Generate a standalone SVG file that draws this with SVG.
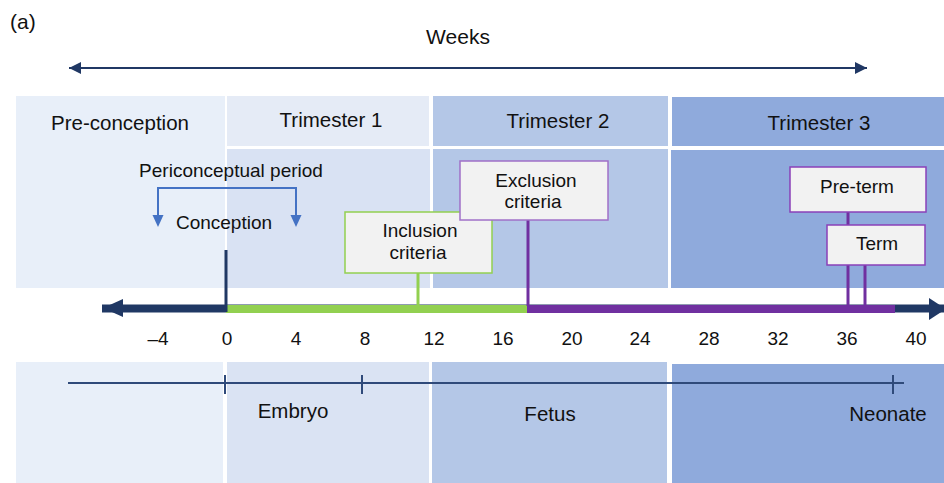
<svg xmlns="http://www.w3.org/2000/svg" width="944" height="483" viewBox="0 0 944 483">
<style>
text{font-family:"Liberation Sans",Arial,sans-serif;fill:#111;}
.h{font-size:20.5px;text-anchor:middle;}
.t{font-size:19px;text-anchor:middle;}
.n{font-size:19px;text-anchor:middle;}
.box{fill:#f2f2f2;stroke-width:1.5;}
.bl{fill:#4472c4;}
</style>
<defs>
<marker id="ah" viewBox="0 0 10 10" refX="10" refY="5" markerWidth="13" markerHeight="12" markerUnits="userSpaceOnUse" orient="auto-start-reverse"><path d="M0,0L10,5L0,10z" fill="#203864"/></marker>
</defs>
<rect width="944" height="483" fill="#fff"/>
<text x="10" y="29" style="font-size:21px">(a)</text>
<g id="weeks">
<text class="h" x="458" y="44" style="font-size:21px">Weeks</text>
<line x1="69" y1="68" x2="867" y2="68" stroke="#203864" stroke-width="2" marker-start="url(#ah)" marker-end="url(#ah)"/>
</g>
<g id="panels-top">
<rect x="16" y="96" width="209" height="192" fill="#e8eff9"/>
<rect x="227" y="96" width="202" height="50" fill="#e5ebf6"/>
<rect x="227" y="149" width="203" height="139" fill="#d9e2f3"/>
<rect x="433" y="96" width="235" height="50" fill="#b4c7e7"/>
<rect x="433" y="149" width="235" height="139" fill="#b4c7e7"/>
<rect x="672" y="97" width="272" height="49" fill="#8faadc"/>
<rect x="671" y="150" width="273" height="138" fill="#8faadc"/>
</g>
<g id="panels-bottom">
<rect x="16" y="362" width="207" height="121" fill="#e8eff9"/>
<rect x="227" y="362" width="202" height="121" fill="#dae3f3"/>
<rect x="432" y="362" width="235" height="121" fill="#b4c7e7"/>
<rect x="672" y="364" width="272" height="119" fill="#8faadc"/>
</g>
<g id="headers">
<text class="h" x="120" y="130">Pre-conception</text>
<text class="h" x="331" y="127">Trimester 1</text>
<text class="h" x="558" y="128">Trimester 2</text>
<text class="h" x="819" y="130">Trimester 3</text>
</g>
<g id="periconceptual">
<text class="t" x="231" y="177">Periconceptual period</text>
<polyline points="158,216 158,188 296,188 296,216" fill="none" stroke="#4472c4" stroke-width="2"/>
<path class="bl" d="M152.5,215 L163.5,215 L158,227 z"/>
<path class="bl" d="M290.5,215 L301.5,215 L296,227 z"/>
<text class="t" x="224" y="229">Conception</text>
</g>
<g id="connectors">
<line x1="102" y1="308.5" x2="944" y2="308.5" stroke="#203864" stroke-width="8"/>
<path d="M103,308 L123,299 L123,317 z" fill="#203864"/>
<path d="M946,309 L929,298 L929,320 z" fill="#203864"/>
<line x1="226" y1="309" x2="527" y2="309" stroke="#92d050" stroke-width="8"/>
<line x1="527" y1="309" x2="895" y2="309" stroke="#7030a0" stroke-width="8"/>
<line x1="226" y1="250" x2="226" y2="312" stroke="#203864" stroke-width="3"/>
<line x1="418" y1="273" x2="418" y2="306" stroke="#92d050" stroke-width="3"/>
<line x1="528" y1="220" x2="528" y2="306" stroke="#7030a0" stroke-width="3"/>
<line x1="848" y1="212" x2="848" y2="306" stroke="#7030a0" stroke-width="3"/>
<line x1="865" y1="265" x2="865" y2="306" stroke="#7030a0" stroke-width="3"/>
</g>
<g id="inclusion">
<rect class="box" x="345" y="212" width="147" height="61" stroke="#92d050"/>
<text class="t" x="420" y="237">Inclusion</text>
<text class="t" x="418" y="259">criteria</text>
</g>
<g id="exclusion">
<rect class="box" x="460" y="161" width="148" height="59" stroke="#a070c8"/>
<text class="t" x="536" y="187">Exclusion</text>
<text class="t" x="533" y="208">criteria</text>
</g>
<g id="preterm">
<rect class="box" x="790" y="167" width="136" height="45" stroke="#8a40b8"/>
<text class="t" x="857" y="193">Pre-term</text>
</g>
<g id="term">
<rect class="box" x="827" y="225" width="98" height="40" stroke="#8a40b8"/>
<text class="t" x="877" y="250">Term</text>
</g>
<g id="ticks">
<text class="n" x="158" y="345">–4</text>
<text class="n" x="227" y="345">0</text>
<text class="n" x="296" y="345">4</text>
<text class="n" x="365" y="345">8</text>
<text class="n" x="434" y="345">12</text>
<text class="n" x="503" y="345">16</text>
<text class="n" x="572" y="345">20</text>
<text class="n" x="640" y="345">24</text>
<text class="n" x="709" y="345">28</text>
<text class="n" x="778" y="345">32</text>
<text class="n" x="847" y="345">36</text>
<text class="n" x="916" y="345">40</text>
</g>
<g id="stages">
<line x1="68" y1="383" x2="904" y2="383" stroke="#2f4a7a" stroke-width="2"/>
<line x1="225" y1="375" x2="225" y2="394" stroke="#2f4a7a" stroke-width="2"/>
<line x1="362" y1="375" x2="362" y2="394" stroke="#2f4a7a" stroke-width="2"/>
<line x1="893" y1="375" x2="893" y2="394" stroke="#2f4a7a" stroke-width="2"/>
<text class="h" x="293" y="418">Embryo</text>
<text class="h" x="550" y="421">Fetus</text>
<text class="h" x="888" y="421">Neonate</text>
</g>
</svg>
